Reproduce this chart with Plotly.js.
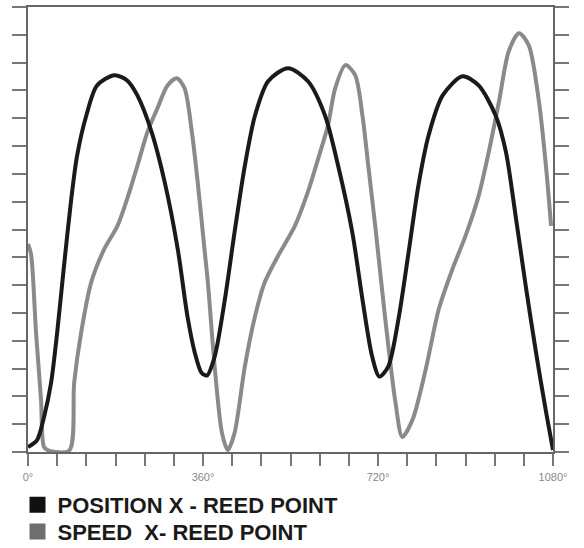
<!DOCTYPE html>
<html>
<head>
<meta charset="utf-8">
<script src="https://cdn.plot.ly/plotly-3.0.1.min.js"></script>
<style>html,body{margin:0;padding:0;background:#fff;}#chart{width:584px;height:548px;}</style>
</head>
<body>
<div id="chart"></div>
<script>
// Crank angle (degrees) and values (arbitrary units, 0-16)
const positionAngle = [0, 18.6, 33, 47.5, 60, 74, 89, 101, 120, 142, 178, 204, 225, 254, 281, 308, 328, 343, 357, 368, 384, 405, 425, 446, 467, 494, 535, 576, 611, 638, 667, 688, 708, 723, 741, 762, 783, 803, 824, 853, 894, 927, 962, 983, 1004, 1024, 1045, 1066, 1080];
const positionValue = [0.18, 0.43, 1.26, 2.49, 4.30, 6.68, 9.10, 10.66, 12.10, 13.18, 13.55, 13.36, 12.82, 11.52, 9.72, 7.30, 4.88, 3.58, 2.85, 2.75, 3.43, 5.49, 7.91, 10.29, 12.10, 13.33, 13.80, 13.33, 12.10, 10.29, 7.91, 5.49, 3.43, 2.71, 3.07, 4.77, 7.19, 9.57, 11.38, 12.82, 13.51, 13.18, 12.10, 10.80, 8.38, 5.96, 3.58, 1.41, 0.07];

const speedAngle = [0, 6.2, 16.5, 26.8, 33, 43, 84.7, 95, 109.4, 130, 157, 184, 204, 225, 246, 266, 287, 306, 322, 337, 349, 363, 370, 384, 399, 411, 425, 446, 467, 487, 514, 549, 576, 597, 617, 632, 653, 673, 688, 700, 715, 735, 756, 770, 791, 818, 845, 873, 900, 927, 948, 969, 989, 1010, 1030, 1051, 1066, 1076];
const speedValue = [7.48, 7.12, 4.30, 1.88, 0.18, 0.05, 0.05, 2.49, 4.30, 6.10, 7.30, 8.13, 9.10, 10.29, 11.52, 12.35, 13.18, 13.44, 13.08, 11.52, 9.72, 7.30, 6.10, 3.07, 0.69, 0.07, 0.69, 3.07, 4.88, 6.10, 7.04, 8.13, 9.36, 10.55, 11.74, 13.08, 13.91, 13.55, 12.10, 10.29, 8.02, 4.77, 1.77, 0.54, 1.16, 2.96, 5.13, 6.57, 7.77, 9.21, 10.80, 12.61, 14.41, 15.06, 14.63, 12.61, 10.19, 8.13];

const tickAngles = [0, 60, 120, 180, 240, 300, 360, 420, 480, 540, 600, 660, 720, 780, 840, 900, 960, 1020, 1080];
const tickLabels = ["0°", "", "", "", "", "", "360°", "", "", "", "", "", "720°", "", "", "", "", "", "1080°"];
const yTicks = [0, 1, 2, 3, 4, 5, 6, 7, 8, 9, 10, 11, 12, 13, 14, 15, 16];
const seriesNames = ["POSITION X - REED POINT", "SPEED  X- REED POINT"];

const blackColor = "#1a1a1a";
const grayColor = "#8a8a8a";

const traces = [
  {x: speedAngle, y: speedValue, mode: "lines", line: {color: grayColor, width: 4, shape: "spline", smoothing: 0.8}, showlegend: false, hoverinfo: "skip"},
  {x: positionAngle, y: positionValue, mode: "lines", line: {color: blackColor, width: 4, shape: "spline", smoothing: 0.8}, showlegend: false, hoverinfo: "skip"},
  {x: [null], y: [null], mode: "markers", name: seriesNames[0], legend: "legend", marker: {symbol: "square", size: 16, color: "#111"}},
  {x: [null], y: [null], mode: "markers", name: seriesNames[1], legend: "legend2", marker: {symbol: "square", size: 16, color: "#6e6e6e"}}
];

const legendFont = {size: 22, color: "#1a1a1a", family: "Liberation Sans, Arial, sans-serif", weight: "bold"};

const layout = {
  width: 584, height: 548,
  margin: {l: 28, r: 31, t: 7, b: 96, autoexpand: false},
  paper_bgcolor: "#fff", plot_bgcolor: "#fff",
  font: {family: "Liberation Sans, Arial, sans-serif", color: "#222"},
  xaxis: {
    range: [0, 1080], tickmode: "array", tickvals: tickAngles, ticktext: tickLabels,
    ticks: "outside", ticklen: 12, tickwidth: 2, tickcolor: "#777",
    showline: true, linecolor: "#666", linewidth: 2, mirror: true,
    showgrid: false, zeroline: false,
    tickfont: {size: 11, color: "#888"}, ticklabelstandoff: 2
  },
  yaxis: {
    range: [0, 16], tickmode: "array", tickvals: yTicks, showticklabels: false,
    ticks: "outside", ticklen: 14, tickwidth: 2, tickcolor: "#777",
    showline: true, linecolor: "#666", linewidth: 2, mirror: "ticks",
    showgrid: false, zeroline: false
  },
  showlegend: true,
  legend: {
    x: -0.02, xanchor: "left", y: -0.119, yanchor: "middle",
    font: legendFont, bgcolor: "rgba(0,0,0,0)", itemwidth: 30
  },
  legend2: {
    x: -0.02, xanchor: "left", y: -0.179, yanchor: "middle",
    font: legendFont, bgcolor: "rgba(0,0,0,0)", itemwidth: 30
  }
};

Plotly.newPlot("chart", traces, layout, {staticPlot: true, displayModeBar: false});
</script>
</body>
</html>
